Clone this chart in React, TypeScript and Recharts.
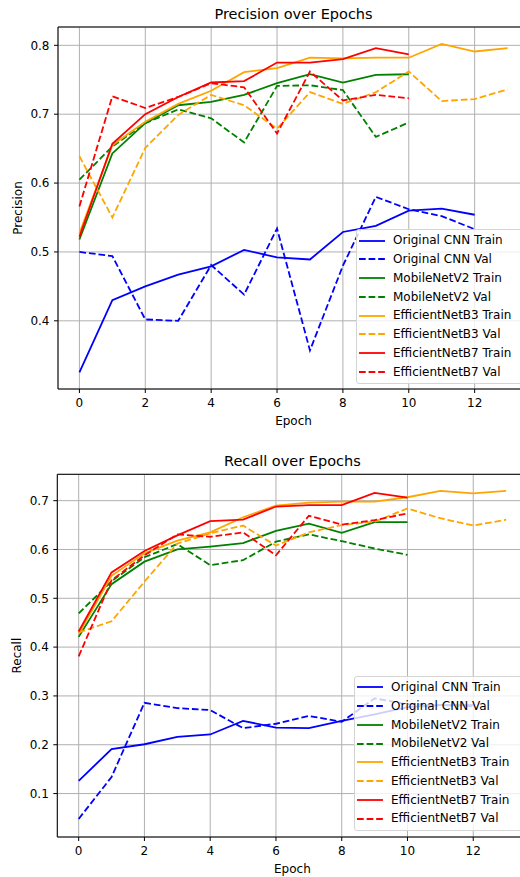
import React from 'react';
import { LineChart, Line, XAxis, YAxis, CartesianGrid, Legend, Label, ReferenceLine } from 'recharts';

const FONT = '"DejaVu Sans", "Liberation Sans", sans-serif';

// ---------- data ----------
const epochs = [0, 1, 2, 3, 4, 5, 6, 7, 8, 9, 10, 11, 12, 13];
const xTicks = [0, 2, 4, 6, 8, 10, 12];

// Precision
const cnnTrainP = [0.325, 0.430, 0.450, 0.467, 0.479, 0.503, 0.492, 0.489, 0.529, 0.538, 0.560, 0.563, 0.554];
const cnnValP = [0.500, 0.494, 0.402, 0.400, 0.481, 0.438, 0.534, 0.357, 0.480, 0.580, 0.562, 0.552, 0.533];
const mobTrainP = [0.518, 0.643, 0.687, 0.713, 0.718, 0.728, 0.745, 0.758, 0.746, 0.757, 0.758];
const mobValP = [0.605, 0.653, 0.687, 0.707, 0.694, 0.659, 0.741, 0.742, 0.735, 0.667, 0.688];
const b3TrainP = [0.527, 0.655, 0.689, 0.715, 0.734, 0.761, 0.767, 0.782, 0.781, 0.782, 0.782, 0.802, 0.791, 0.796];
const b3ValP = [0.639, 0.550, 0.651, 0.699, 0.728, 0.713, 0.679, 0.732, 0.715, 0.732, 0.762, 0.719, 0.722, 0.736];
const b7TrainP = [0.522, 0.657, 0.700, 0.725, 0.746, 0.748, 0.775, 0.775, 0.780, 0.796, 0.787];
const b7ValP = [0.566, 0.726, 0.709, 0.725, 0.745, 0.739, 0.672, 0.762, 0.720, 0.728, 0.723];
const precisionTicks = [0.4, 0.5, 0.6, 0.7, 0.8];

// Recall
const cnnTrainR = [0.126, 0.191, 0.201, 0.216, 0.221, 0.249, 0.235, 0.234, 0.249, 0.262, 0.277, 0.281, 0.281];
const cnnValR = [0.048, 0.134, 0.286, 0.275, 0.271, 0.234, 0.243, 0.259, 0.247, 0.295, 0.283, 0.281, 0.279];
const mobTrainR = [0.421, 0.529, 0.575, 0.600, 0.606, 0.613, 0.638, 0.653, 0.634, 0.656, 0.656];
const mobValR = [0.469, 0.535, 0.584, 0.611, 0.568, 0.578, 0.616, 0.631, 0.617, 0.602, 0.589];
const b3TrainR = [0.427, 0.546, 0.592, 0.618, 0.635, 0.666, 0.690, 0.696, 0.698, 0.698, 0.707, 0.720, 0.715, 0.720];
const b3ValR = [0.430, 0.453, 0.534, 0.612, 0.633, 0.649, 0.608, 0.635, 0.650, 0.657, 0.684, 0.664, 0.649, 0.661];
const b7TrainR = [0.432, 0.553, 0.597, 0.629, 0.658, 0.661, 0.688, 0.691, 0.691, 0.716, 0.706];
const b7ValR = [0.381, 0.537, 0.588, 0.631, 0.626, 0.635, 0.588, 0.669, 0.651, 0.660, 0.674];
const recallTicks = [0.1, 0.2, 0.3, 0.4, 0.5, 0.6, 0.7];

const seriesNames = [
  'Original CNN Train', 'Original CNN Val',
  'MobileNetV2 Train', 'MobileNetV2 Val',
  'EfficientNetB3 Train', 'EfficientNetB3 Val',
  'EfficientNetB7 Train', 'EfficientNetB7 Val',
];
const seriesKeys = ['cnnTrain', 'cnnVal', 'mobTrain', 'mobVal', 'b3Train', 'b3Val', 'b7Train', 'b7Val'];
const seriesColors = ['#0000ff', '#0000ff', '#008000', '#008000', '#ffa500', '#ffa500', '#ff0000', '#ff0000'];
const seriesDashed = [false, true, false, true, false, true, false, true];

const precisionSeries = [cnnTrainP, cnnValP, mobTrainP, mobValP, b3TrainP, b3ValP, b7TrainP, b7ValP];
const recallSeries = [cnnTrainR, cnnValR, mobTrainR, mobValR, b3TrainR, b3ValR, b7TrainR, b7ValR];

const buildRows = (series: number[][]) =>
  epochs.map((e, i) => {
    const row: Record<string, number | undefined> = { epoch: e };
    seriesKeys.forEach((k, j) => {
      row[k] = series[j][i];
    });
    return row;
  });

const precisionRows = buildRows(precisionSeries);
const recallRows = buildRows(recallSeries);

// ---------- styling ----------
const LW = 1.8;
const DASH = '6.7 2.9';
const X_DOMAIN: [number, number] = [-0.65, 13.65];

const tickStyle = { fontSize: 12, fill: '#000', fontFamily: FONT };

const LegendBox = () => (
  <div
    style={{
      background: 'rgba(255,255,255,0.8)',
      border: '1px solid #d4d4d4',
      borderRadius: 3,
      padding: '1px 0 2px 2px',
      width: 185,
      boxSizing: 'border-box',
      fontFamily: FONT,
      fontSize: 12,
      color: '#000',
    }}
  >
    {seriesNames.map((n, i) => (
      <div key={n} style={{ display: 'flex', alignItems: 'center', height: 18.75 }}>
        <svg width={26} height={6} style={{ marginRight: 8, flex: 'none' }}>
          <line
            x1={0}
            y1={3}
            x2={26}
            y2={3}
            stroke={seriesColors[i]}
            strokeWidth={LW}
            strokeDasharray={seriesDashed[i] ? DASH : undefined}
          />
        </svg>
        <span style={{ whiteSpace: 'nowrap', lineHeight: '18.75px' }}>{n}</span>
      </div>
    ))}
  </div>
);

const yLabelContent = (text: string) => (props: any) => {
  const vb = props.viewBox || { x: 0, y: 0, width: 58, height: 362 };
  const cx = vb.x + 21.5;
  const cy = vb.y + vb.height / 2;
  return (
    <text
      x={cx}
      y={cy}
      transform={`rotate(-90 ${cx} ${cy})`}
      textAnchor="middle"
      fontSize={12}
      fontFamily={FONT}
      fill="#000"
    >
      {text}
    </text>
  );
};

const xLabelContent = (props: any) => {
  const vb = props.viewBox || { x: 58, y: 389, width: 471, height: 40 };
  return (
    <text x={vb.x + vb.width / 2} y={vb.y + 35.5} textAnchor="middle" fontSize={12} fontFamily={FONT} fill="#000">
      Epoch
    </text>
  );
};

type PanelProps = {
  rows: Record<string, number | undefined>[];
  yDomain: [number, number];
  yTicks: number[];
  yLabel: string;
  height: number;
  margin: { top: number; right: number; bottom: number; left: number };
  yWidth: number;
  legendPos: { left: number; top: number };
};

const Panel = ({ rows, yDomain, yTicks, yLabel, height, margin, yWidth, legendPos }: PanelProps) => (
  <LineChart width={540} height={height} data={rows} margin={margin}>
    <CartesianGrid stroke="#b0b0b0" strokeWidth={1} />
    <XAxis
      dataKey="epoch"
      type="number"
      domain={X_DOMAIN}
      ticks={xTicks}
      interval={0}
      allowDataOverflow
      height={40}
      tick={tickStyle}
      tickSize={4}
      tickMargin={5}
      tickLine={{ stroke: '#000' }}
      axisLine={{ stroke: '#000' }}
    >
      <Label content={xLabelContent} />
    </XAxis>
    <YAxis
      type="number"
      domain={yDomain}
      ticks={yTicks}
      interval={0}
      allowDataOverflow
      width={yWidth}
      tick={tickStyle}
      tickSize={4}
      tickMargin={4.5}
      tickFormatter={(v: number) => v.toFixed(1)}
      tickLine={{ stroke: '#000' }}
      axisLine={{ stroke: '#000' }}
    >
      <Label content={yLabelContent(yLabel)} />
    </YAxis>
    <ReferenceLine y={yDomain[1]} stroke="#000" strokeWidth={1} ifOverflow="visible" />
    <ReferenceLine x={X_DOMAIN[1]} stroke="#000" strokeWidth={1} ifOverflow="visible" />
    {seriesKeys.map((k, i) => (
      <Line
        key={k}
        dataKey={k}
        name={seriesNames[i]}
        type="linear"
        stroke={seriesColors[i]}
        strokeWidth={LW}
        strokeDasharray={seriesDashed[i] ? DASH : undefined}
        dot={false}
        activeDot={false}
        isAnimationActive={false}
        connectNulls={false}
      />
    ))}
    <Legend
      layout="vertical"
      align="center"
      verticalAlign="middle"
      content={() => <LegendBox />}
      wrapperStyle={{ left: legendPos.left, top: legendPos.top, right: 'auto', bottom: 'auto', width: 185 }}
    />
  </LineChart>
);

const titleStyle = (top: number, left: number, width: number): React.CSSProperties => ({
  position: 'absolute',
  top,
  left,
  width,
  textAlign: 'center',
  fontFamily: FONT,
  fontSize: 14.5,
  lineHeight: '14.5px',
  color: '#000',
  whiteSpace: 'nowrap',
  zIndex: 2,
});

export default function App() {
  return (
    <div
      style={{
        position: 'fixed',
        left: 0,
        top: 0,
        width: 520,
        height: 877,
        overflow: 'hidden',
        background: '#fff',
        fontFamily: FONT,
      }}
    >
      <div style={titleStyle(7.2, 58, 471)}>Precision over Epochs</div>
      <div style={{ position: 'absolute', left: 0, top: 0 }}>
        <Panel
          rows={precisionRows}
          yDomain={[0.301, 0.8266]}
          yTicks={precisionTicks}
          yLabel="Precision"
          height={438}
          margin={{ top: 27, right: 11, bottom: 9, left: 0 }}
          yWidth={58}
          legendPos={{ left: 356, top: 229.3 }}
        />
      </div>
      <div style={titleStyle(454.4, 57.3, 470.2)}>Recall over Epochs</div>
      <div style={{ position: 'absolute', left: 0, top: 438 }}>
        <Panel
          rows={recallRows}
          yDomain={[0.011, 0.754]}
          yTicks={recallTicks}
          yLabel="Recall"
          height={439}
          margin={{ top: 36.3, right: 12.5, bottom: 0, left: 0 }}
          yWidth={57.3}
          legendPos={{ left: 354, top: 238 }}
        />
      </div>
    </div>
  );
}
